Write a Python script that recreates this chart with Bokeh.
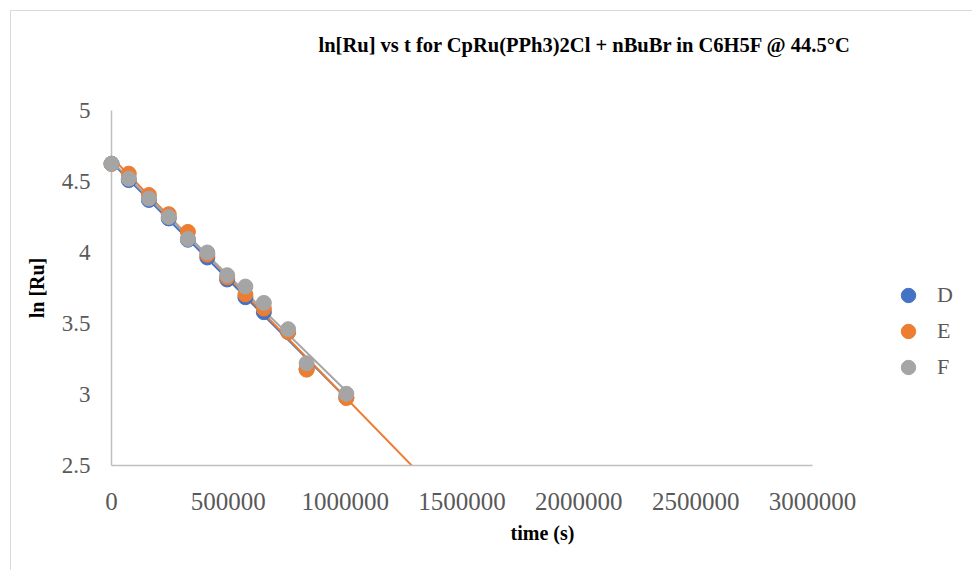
import numpy as np
from bokeh.plotting import figure
from bokeh.models import (Range1d, FixedTicker, Legend, LegendItem,
                          BasicTickFormatter, Title)
from bokeh.embed import file_html
from bokeh.resources import INLINE

# ---------------- data ----------------
time_s = [0, 74000, 160000, 245000, 327000, 410000, 495000, 573000,
          652000, 756000, 835000, 1005000]
ln_D = [4.625, 4.51, 4.37, 4.24, 4.09, 3.965, 3.81, 3.685, 3.58, 3.44, 3.18, 2.98]
ln_E = [4.625, 4.555, 4.405, 4.27, 4.145, 3.985, 3.825, 3.705, 3.605, 3.44, 3.175, 2.975]
ln_F = [4.625, 4.52, 4.38, 4.25, 4.095, 4.0, 3.84, 3.76, 3.645, 3.46, 3.22, 3.005]
series_names = ["D", "E", "F"]
x_ticks = [0, 500000, 1000000, 1500000, 2000000, 2500000, 3000000]
y_ticks = [2.5, 3, 3.5, 4, 4.5, 5]
y_tick_labels = ["2.5", "3", "3.5", "4", "4.5", "5"]
x_axis_bounds = (0, 3000000)
y_axis_bounds = (2.5, 5)
e_forecast_forward = 2000000  # trendline forecast of series E

title_text = "ln[Ru] vs t for CpRu(PPh3)2Cl + nBuBr in C6H5F @ 44.5°C"
x_label = "time (s)"
y_label = "ln [Ru]"

colors = ["#4472C4", "#ED7D31", "#A5A5A5"]
FONT = "Liberation Serif"

# layout geometry (pixels)
W, H = 962, 560
BORDER_L, BORDER_T, BORDER_B = 100, 99, 106
AXIS_PX = 701                       # pixel length of the drawn x axis
frame_w = W - BORDER_L
x_end = x_axis_bounds[1] * frame_w / AXIS_PX   # plot area continues to the right for the legend

p = figure(width=W, height=H, output_backend="svg", toolbar_location=None,
           title=None,
           x_range=Range1d(x_axis_bounds[0], x_end),
           y_range=Range1d(*y_axis_bounds),
           min_border_left=BORDER_L, min_border_right=0,
           min_border_top=BORDER_T, min_border_bottom=BORDER_B)
p.margin = (10, 0, 0, 10)
p.styles = {"border-left": "1px solid #d9d9d9", "border-top": "1px solid #d9d9d9"}
p.outline_line_color = None
p.grid.visible = False
p.background_fill_color = "white"
p.border_fill_color = "white"

# spacer between plot area and title, then the title itself
p.add_layout(Title(text=" ", text_font_size="1px", standoff=52), "above")
p.add_layout(Title(text=title_text, align="left", offset=207,
                   vertical_align="bottom", standoff=0,
                   text_font=FONT, text_font_size="20.5px",
                   text_font_style="bold", text_color="#000000"), "above")

for ax in (p.xaxis[0], p.yaxis[0]):
    ax.axis_line_color = "#bfbfbf"
    ax.axis_line_width = 1.5
    ax.major_tick_line_color = None
    ax.minor_tick_line_color = None
    ax.major_tick_in = 0
    ax.major_tick_out = 0
    ax.minor_tick_in = 0
    ax.minor_tick_out = 0
    ax.major_label_text_font = FONT
    ax.major_label_text_color = "#595959"
    ax.axis_label_text_font = FONT
    ax.axis_label_text_font_size = "20px"
    ax.axis_label_text_font_style = "bold"
    ax.axis_label_text_color = "#000000"

p.xaxis.ticker = FixedTicker(ticks=x_ticks)
p.xaxis.bounds = x_axis_bounds
p.xaxis.formatter = BasicTickFormatter(use_scientific=False)
p.xaxis.major_label_text_font_size = "25px"
p.xaxis.major_label_standoff = 27
p.xaxis.axis_label = x_label
p.xaxis.axis_label_standoff = 9

p.yaxis.ticker = FixedTicker(ticks=y_ticks)
p.yaxis.major_label_overrides = {t: s for t, s in zip(y_ticks, y_tick_labels)}
p.yaxis.major_label_text_font_size = "23px"
p.yaxis.major_label_standoff = 21
p.yaxis.axis_label = y_label
p.yaxis.axis_label_standoff = 11

# trendlines (linear fits)
all_series = [ln_D, ln_E, ln_F]
x_arr = np.array(time_s, dtype=float)
for name, ys, c in zip(series_names, all_series, colors):
    m, b = np.polyfit(x_arr, np.array(ys), 1)
    x0, x1 = x_arr.min(), x_arr.max()
    if name == "E":
        x1 = x1 + e_forecast_forward
    xs = [x0, x1]
    p.line(xs, [m * xx + b for xx in xs], line_color=c, line_width=2)

# markers
items = []
for name, ys, c in zip(series_names, all_series, colors):
    r = p.scatter(time_s, ys, size=15, marker="circle", fill_color=c,
                  line_color=c, level="overlay")
    items.append(LegendItem(label=name, renderers=[r]))

legend = Legend(items=items, location=(777, 80), orientation="vertical",
                glyph_width=40, glyph_height=36, spacing=0, label_standoff=9,
                padding=0, margin=0, border_line_color=None,
                background_fill_alpha=0,
                label_text_font=FONT, label_text_font_size="22px",
                label_text_color="#595959")
p.add_layout(legend)

open("out.html", "w").write(file_html(p, INLINE))
